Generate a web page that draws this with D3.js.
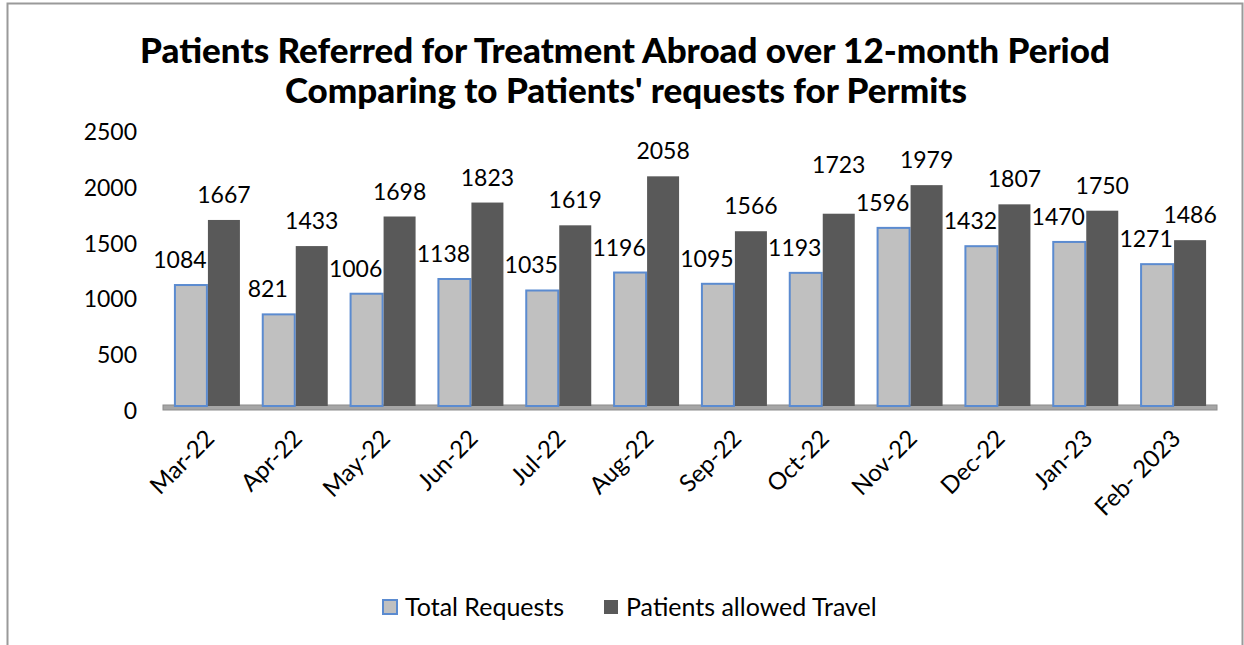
<!DOCTYPE html>
<html>
<head>
<meta charset="utf-8">
<script src="https://cdn.jsdelivr.net/npm/d3@7"></script>
<style>
  body { margin: 0; background: #fff; }
  text { font-family: Lato, "Open Sans", sans-serif; fill: #000; }
</style>
</head>
<body>
<svg id="chart" width="1244" height="645"></svg>
<script>
var months = ["Mar-22", "Apr-22", "May-22", "Jun-22", "Jul-22", "Aug-22", "Sep-22", "Oct-22", "Nov-22", "Dec-22", "Jan-23", "Feb- 2023"];
var totalRequests = [1084, 821, 1006, 1138, 1035, 1196, 1095, 1193, 1596, 1432, 1470, 1271];
var allowedTravel = [1667, 1433, 1698, 1823, 1619, 2058, 1566, 1723, 1979, 1807, 1750, 1486];
var yTicks = [0, 500, 1000, 1500, 2000, 2500];
var seriesNames = ["Total Requests", "Patients allowed Travel"];

var svg = d3.select("#chart");

// cadre
svg.append("path")
    .attr("d", "M7.5,645V3.5H1242.5V645")
    .attr("fill", "none")
    .attr("stroke", "#9a9a9a")
    .attr("stroke-width", 2);

// titre
var title = svg.append("text")
    .attr("text-anchor", "middle")
    .attr("font-weight", "900")
    .attr("font-size", 35);
title.append("tspan").attr("x", 625).attr("y", 63).text("Patients Referred for Treatment Abroad over 12-month Period");
title.append("tspan").attr("x", 626).attr("y", 103).text("Comparing to Patients' requests for Permits");

var x = d3.scaleBand()
    .domain(months)
    .range([163, 1217]);

var y = d3.scaleLinear()
    .domain([0, 2500])
    .range([406, 127]);

// axe y (texte seulement)
svg.append("g")
    .selectAll("text")
    .data(yTicks)
    .enter().append("text")
      .attr("x", 137)
      .attr("y", function(d) { return y(d) + 5; })
      .attr("dy", "0.35em")
      .attr("text-anchor", "end")
      .attr("font-size", 23)
      .text(function(d) { return d; });

// plancher
svg.append("rect")
    .attr("x", 163)
    .attr("y", 405)
    .attr("width", 1217 - 163)
    .attr("height", 5)
    .attr("fill", "#a6a6a6")
    .attr("stroke", "#8c8c8c")
    .attr("stroke-width", 1);

var barW = 32;

// Total Requests
svg.append("g")
    .selectAll("rect")
    .data(totalRequests)
    .enter().append("rect")
      .attr("x", function(d, i) { return x(months[i]) + x.bandwidth() / 2 - barW; })
      .attr("y", function(d) { return y(d); })
      .attr("width", barW)
      .attr("height", function(d) { return y(0) - y(d); })
      .attr("fill", "#c0c0c0")
      .attr("stroke", "#5b8bd0")
      .attr("stroke-width", 2);

// Patients allowed Travel
svg.append("g")
    .selectAll("rect")
    .data(allowedTravel)
    .enter().append("rect")
      .attr("x", function(d, i) { return x(months[i]) + x.bandwidth() / 2 + 1; })
      .attr("y", function(d) { return y(d); })
      .attr("width", barW)
      .attr("height", function(d) { return y(0) - y(d); })
      .attr("fill", "#595959");

// etiquettes valeurs
var lightLabels = svg.append("g")
    .selectAll("text")
    .data(totalRequests)
    .enter().append("text")
      .attr("x", function(d, i) { return x(months[i]) + x.bandwidth() / 2 - barW / 2 - 11; })
      .attr("y", function(d) { return y(d) - 17; })
      .attr("text-anchor", "middle")
      .attr("font-size", 23)
      .text(function(d) { return d; });

var darkLabels = svg.append("g")
    .selectAll("text")
    .data(allowedTravel)
    .enter().append("text")
      .attr("x", function(d, i) { return x(months[i]) + x.bandwidth() / 2 + 1 + barW / 2; })
      .attr("y", function(d) { return y(d) - 17; })
      .attr("text-anchor", "middle")
      .attr("font-size", 23)
      .text(function(d) { return d; });

// si une etiquette sombre touche l'etiquette claire du mois suivant, on la remonte
var lightNodes = lightLabels.nodes();
darkLabels.each(function(d, i) {
  if (i + 1 >= lightNodes.length) return;
  var a = this.getBBox(), b = lightNodes[i + 1].getBBox();
  var overlap = a.x < b.x + b.width && b.x < a.x + a.width && a.y < b.y + b.height && b.y < a.y + a.height;
  if (overlap) {
    var shift = (a.y + a.height) - b.y + 10;
    d3.select(this).attr("y", +d3.select(this).attr("y") - shift);
  }
});

// axe x, rotation -45
svg.append("g")
    .selectAll("text")
    .data(months)
    .enter().append("text")
      .attr("text-anchor", "end")
      .attr("font-size", 24)
      .attr("transform", function(d) { return "translate(" + (x(d) + x.bandwidth() / 2 + 3) + ",434)rotate(-45)"; })
      .attr("dy", "0.35em")
      .text(function(d) { return d; });

// legende
var legend = svg.append("g")
    .selectAll("g")
    .data(seriesNames)
    .enter().append("g")
      .attr("transform", function(d, i) { return "translate(" + (i === 0 ? 383 : 604) + ",600)"; });

legend.append("rect")
    .attr("width", 14)
    .attr("height", 14)
    .attr("fill", function(d, i) { return i === 0 ? "#c0c0c0" : "#595959"; })
    .attr("stroke", function(d, i) { return i === 0 ? "#5b8bd0" : "none"; })
    .attr("stroke-width", 2);

legend.append("text")
    .attr("x", 22)
    .attr("y", 7)
    .attr("dy", "0.35em")
    .attr("font-size", 25)
    .text(function(d) { return d; });
</script>
</body>
</html>
